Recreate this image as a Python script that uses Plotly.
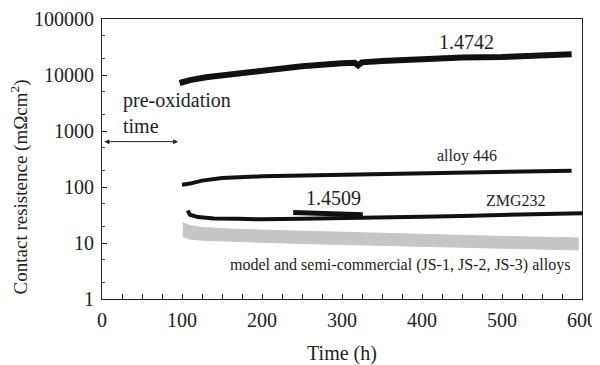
import plotly.graph_objects as go

# --- data ---
t_1_4742 = [97, 110, 130, 160, 200, 250, 300, 316, 320, 325, 350, 400, 450, 500, 550, 587]
r_1_4742 = [7200, 8100, 9100, 10300, 12300, 14300, 16200, 16500, 14800, 16800, 17800, 19500, 20500, 21000, 22500, 23500]

t_446 = [100, 110, 125, 150, 200, 250, 300, 350, 400, 450, 500, 550, 587]
r_446 = [110, 115, 130, 145, 155, 160, 168, 175, 180, 184, 188, 192, 196]

t_zmg = [107, 110, 120, 140, 170, 200, 250, 300, 350, 400, 450, 500, 550, 600]
r_zmg = [38, 32, 29, 27.5, 27, 26.5, 27, 27.5, 28.5, 29.5, 30.5, 31.5, 32.5, 34]

t_1_4509 = [239, 260, 290, 326]
r_1_4509 = [35, 34, 33, 32]

t_band = [101, 110, 125, 150, 200, 250, 300, 350, 400, 450, 500, 550, 596]
band_top = [23, 20.5, 19, 18, 17, 16.2, 15.5, 14.8, 14.1, 13.5, 13.1, 12.7, 12.3]
band_bot = [13, 11.8, 11.2, 10.8, 10.3, 9.8, 9.4, 9, 8.6, 8.3, 8, 7.7, 7.5]

y_tickvals = [1, 10, 100, 1000, 10000, 100000]
y_ticktext = ["1", "10", "100", "1000", "10000", "100000"]
x_tickvals = [0, 100, 200, 300, 400, 500, 600]

FONT = "Liberation Serif"
fig = go.Figure()

fig.add_trace(go.Scatter(x=t_band, y=band_bot, mode="lines",
                         line=dict(color="#c6c6c6", width=1), showlegend=False))
fig.add_trace(go.Scatter(x=t_band, y=band_top, mode="lines", fill="tonexty",
                         fillcolor="#c6c6c6",
                         line=dict(color="#c6c6c6", width=1), showlegend=False))
fig.add_trace(go.Scatter(x=t_1_4742, y=r_1_4742, mode="lines",
                         line=dict(color="#111", width=6), showlegend=False))
fig.add_trace(go.Scatter(x=t_446, y=r_446, mode="lines",
                         line=dict(color="#111", width=4), showlegend=False))
fig.add_trace(go.Scatter(x=t_zmg, y=r_zmg, mode="lines",
                         line=dict(color="#111", width=4), showlegend=False))
fig.add_trace(go.Scatter(x=t_1_4509, y=r_1_4509, mode="lines",
                         line=dict(color="#111", width=5), showlegend=False))

# pre-oxidation double arrow
fig.add_annotation(x=3, y=2.81, ax=97, ay=2.81, xref="x", yref="y", axref="x", ayref="y",
                   showarrow=True, arrowhead=2, arrowside="end+start", arrowsize=1,
                   arrowwidth=1, arrowcolor="#222", text="")

ann = [
    (456, 4.59, "1.4742", 20),
    (289, 1.80, "1.4509", 20),
    (456, 2.55, "alloy 446", 16),
    (517, 1.755, "ZMG232", 16),
    (372, 0.607, "model and semi-commercial (JS-1, JS-2, JS-3) alloys", 16),
]
for x, y, txt, sz in ann:
    fig.add_annotation(x=x, y=y, xref="x", yref="y", text=txt, showarrow=False,
                       font=dict(family=FONT, size=sz, color="#222"))
fig.add_annotation(x=24, y=3.33, xref="x", yref="y", text="pre-oxidation<br>time",
                   showarrow=False, xanchor="left", align="left",
                   font=dict(family=FONT, size=20, color="#222"))

# y-axis title (placed below centre, as in the reference)
fig.add_annotation(x=-0.172, y=0.40, xref="paper", yref="paper",
                   text="Contact resistence (mΩcm<sup>2</sup>)", textangle=-90,
                   showarrow=False, xanchor="center", yanchor="middle",
                   font=dict(family=FONT, size=19, color="#222"))

# page body has an 8px margin, so the figure is shrunk by 8px and margins shifted
fig.update_layout(
    width=592, height=357,
    margin=dict(l=94, r=18, t=11, b=66),
    paper_bgcolor="white", plot_bgcolor="white",
    font=dict(family=FONT, size=20, color="#222"),
    xaxis=dict(range=[0, 600], tickvals=x_tickvals, ticks="inside", ticklen=5,
               tickcolor="#222", showline=True, linecolor="#222", linewidth=1,
               mirror=True, showgrid=False, zeroline=False, automargin=False,
               ticklabelstandoff=3,
               minor=dict(dtick=25, ticks="inside", ticklen=5, tickcolor="#222"),
               title=dict(text="Time (h)", font=dict(size=20), standoff=16)),
    yaxis=dict(type="log", range=[0, 5], tickvals=y_tickvals, ticktext=y_ticktext,
               ticks="inside", ticklen=5, tickcolor="#222", showline=True,
               linecolor="#222", linewidth=1, mirror=True, showgrid=False,
               zeroline=False, automargin=False, ticklabelstandoff=3,
               minor=dict(ticks="inside", ticklen=3, tickcolor="#444")),
)

fig.write_html("out.html")
